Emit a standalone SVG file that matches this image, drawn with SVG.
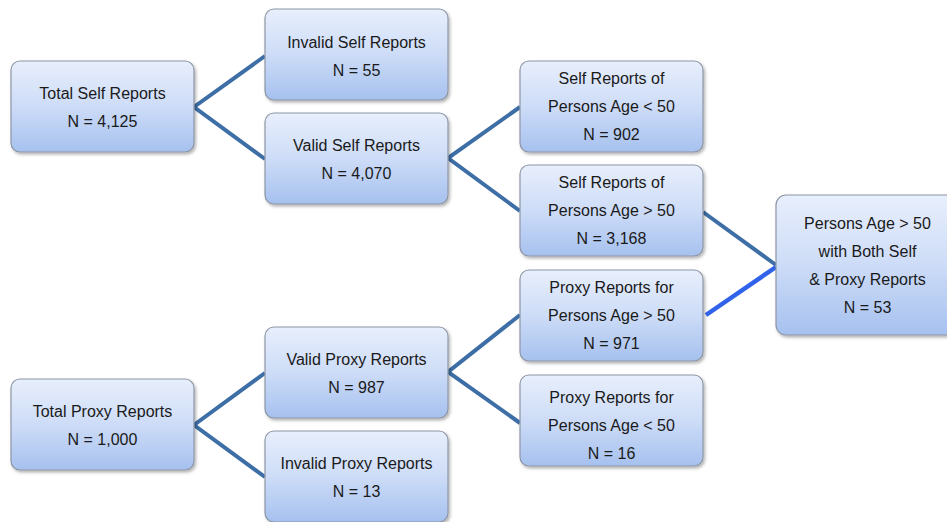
<svg xmlns="http://www.w3.org/2000/svg" width="947" height="522" viewBox="0 0 947 522">
<defs>
<linearGradient id="g" x1="0" y1="0" x2="0" y2="1">
<stop offset="0" stop-color="#e8effc"/>
<stop offset="0.5" stop-color="#cddcf7"/>
<stop offset="1" stop-color="#a6c1ef"/>
</linearGradient>
<filter id="sh" x="-10%" y="-10%" width="125%" height="130%">
<feDropShadow dx="1.5" dy="2" stdDeviation="1.5" flood-color="#000" flood-opacity="0.3"/>
</filter>
</defs>
<style>
.box{fill:url(#g);stroke:#8d96a6;stroke-width:1.2;filter:url(#sh)}
.t{font-family:"Liberation Sans",Arial,sans-serif;font-size:16px;fill:#1a1a1a;text-anchor:middle}
.c{stroke:#3d6ea6;stroke-width:4;fill:none;stroke-linejoin:miter}
.hl{stroke:#3163ea;stroke-width:4.5;fill:none}
</style>
<rect width="947" height="522" fill="#ffffff"/>
<g id="connectors">
<polyline class="c" points="265,56 194,107 265,159"/>
<polyline class="c" points="520,107 448,158 520,211"/>
<polyline class="c" points="265,373 194,425 265,477"/>
<polyline class="c" points="520,315 448,372 520,423"/>
<line class="c" x1="703" y1="212" x2="776" y2="265"/>
<line class="hl" x1="706" y1="315" x2="776" y2="267"/>
</g>
<g id="total-self">
<rect class="box" x="11" y="61" width="183" height="91" rx="9"/>
<text class="t" x="102.5" y="99">Total Self Reports</text>
<text class="t" x="102.5" y="127">N = 4,125</text>
</g>
<g id="invalid-self">
<rect class="box" x="265" y="9" width="183" height="91" rx="9"/>
<text class="t" x="356.5" y="48">Invalid Self Reports</text>
<text class="t" x="356.5" y="76">N = 55</text>
</g>
<g id="valid-self">
<rect class="box" x="265" y="113" width="183" height="91" rx="9"/>
<text class="t" x="356.5" y="151">Valid Self Reports</text>
<text class="t" x="356.5" y="179">N = 4,070</text>
</g>
<g id="self-under-50">
<rect class="box" x="520" y="61" width="183" height="91" rx="9"/>
<text class="t" x="611.5" y="84">Self Reports of</text>
<text class="t" x="611.5" y="112">Persons Age &lt; 50</text>
<text class="t" x="611.5" y="140">N = 902</text>
</g>
<g id="self-over-50">
<rect class="box" x="520" y="165" width="183" height="91" rx="9"/>
<text class="t" x="611.5" y="188">Self Reports of</text>
<text class="t" x="611.5" y="216">Persons Age &gt; 50</text>
<text class="t" x="611.5" y="244">N = 3,168</text>
</g>
<g id="both">
<rect class="box" x="776" y="195" width="183" height="140" rx="10"/>
<text class="t" x="867.5" y="229">Persons Age &gt; 50</text>
<text class="t" x="867.5" y="257">with Both Self</text>
<text class="t" x="867.5" y="285">&amp; Proxy Reports</text>
<text class="t" x="867.5" y="313">N = 53</text>
</g>
<g id="proxy-over-50">
<rect class="box" x="520" y="270" width="183" height="91" rx="9"/>
<text class="t" x="611.5" y="293">Proxy Reports for</text>
<text class="t" x="611.5" y="321">Persons Age &gt; 50</text>
<text class="t" x="611.5" y="349">N = 971</text>
</g>
<g id="proxy-under-50">
<rect class="box" x="520" y="375" width="183" height="91" rx="9"/>
<text class="t" x="611.5" y="403">Proxy Reports for</text>
<text class="t" x="611.5" y="431">Persons Age &lt; 50</text>
<text class="t" x="611.5" y="459">N = 16</text>
</g>
<g id="total-proxy">
<rect class="box" x="11" y="379" width="183" height="91" rx="9"/>
<text class="t" x="102.5" y="417">Total Proxy Reports</text>
<text class="t" x="102.5" y="445">N = 1,000</text>
</g>
<g id="valid-proxy">
<rect class="box" x="265" y="327" width="183" height="91" rx="9"/>
<text class="t" x="356.5" y="365">Valid Proxy Reports</text>
<text class="t" x="356.5" y="393">N = 987</text>
</g>
<g id="invalid-proxy">
<rect class="box" x="265" y="431" width="183" height="91" rx="9"/>
<text class="t" x="356.5" y="469">Invalid Proxy Reports</text>
<text class="t" x="356.5" y="497">N = 13</text>
</g>
</svg>
